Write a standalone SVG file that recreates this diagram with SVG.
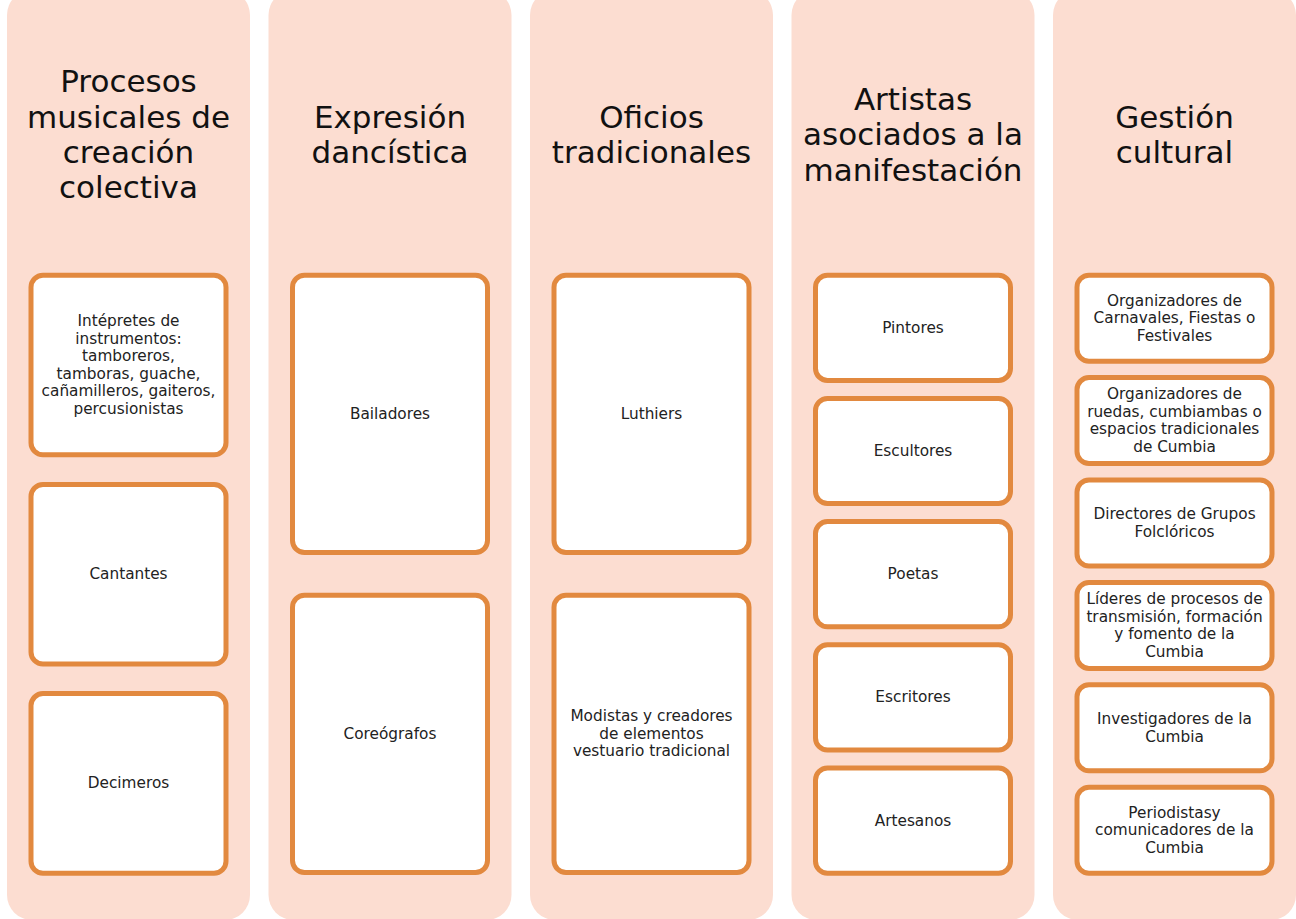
<svg xmlns="http://www.w3.org/2000/svg" width="1296" height="919" viewBox="0 0 1296 919">
<style>
.col{fill:#FCDDD1;}
.box{fill:#FFFFFF;stroke:#E2893F;stroke-width:5;}
.hd{font-family:"DejaVu Sans","Liberation Sans",sans-serif;font-size:31px;fill:#111111;text-anchor:middle;}
.tx{font-family:"DejaVu Sans","Liberation Sans",sans-serif;font-size:15.3px;fill:#222222;text-anchor:middle;}
</style>
<rect width="1296" height="919" fill="#FFFFFF"/>

<g id="col-procesos">
<rect class="col" x="7" y="-10" width="243" height="930" rx="25"/>
<text class="hd"><tspan x="128.5" y="92.4">Procesos</tspan><tspan x="128.5" y="127.7">musicales de</tspan><tspan x="128.5" y="163">creación</tspan><tspan x="128.5" y="198.3">colectiva</tspan></text>
</g>
<g id="node-interpretes">
<rect class="box" x="31" y="275.2" width="195" height="179.6" rx="12"/>
<text class="tx"><tspan x="128.5" y="326.25">Intépretes de</tspan><tspan x="128.5" y="343.75">instrumentos:</tspan><tspan x="128.5" y="361.25">tamboreros,</tspan><tspan x="128.5" y="378.75">tamboras, guache,</tspan><tspan x="128.5" y="396.25">cañamilleros, gaiteros,</tspan><tspan x="128.5" y="413.75">percusionistas</tspan></text>
</g>
<g id="node-cantantes">
<rect class="box" x="31" y="484.4" width="195" height="179.6" rx="12"/>
<text class="tx" x="128.5" y="579.2">Cantantes</text>
</g>
<g id="node-decimeros">
<rect class="box" x="31" y="693.6" width="195" height="179.6" rx="12"/>
<text class="tx" x="128.5" y="788.4">Decimeros</text>
</g>

<g id="col-expresion">
<rect class="col" x="268.5" y="-10" width="243" height="930" rx="25"/>
<text class="hd"><tspan x="390" y="127.7">Expresión</tspan><tspan x="390" y="163">dancística</tspan></text>
</g>
<g id="node-bailadores">
<rect class="box" x="292.5" y="275.2" width="195" height="277.3" rx="12"/>
<text class="tx" x="390" y="418.9">Bailadores</text>
</g>
<g id="node-coreografos">
<rect class="box" x="292.5" y="595.2" width="195" height="277.3" rx="12"/>
<text class="tx" x="390" y="738.9">Coreógrafos</text>
</g>

<g id="col-oficios">
<rect class="col" x="530" y="-10" width="243" height="930" rx="25"/>
<text class="hd"><tspan x="651.5" y="127.7">Oficios</tspan><tspan x="651.5" y="163">tradicionales</tspan></text>
</g>
<g id="node-luthiers">
<rect class="box" x="554" y="275.2" width="195" height="277.3" rx="12"/>
<text class="tx" x="651.5" y="418.9">Luthiers</text>
</g>
<g id="node-modistas">
<rect class="box" x="554" y="595.2" width="195" height="277.3" rx="12"/>
<text class="tx"><tspan x="651.5" y="721.35">Modistas y creadores</tspan><tspan x="651.5" y="738.85">de elementos</tspan><tspan x="651.5" y="756.35">vestuario tradicional</tspan></text>
</g>

<g id="col-artistas">
<rect class="col" x="791.5" y="-10" width="243" height="930" rx="25"/>
<text class="hd"><tspan x="913" y="110">Artistas</tspan><tspan x="913" y="145.3">asociados a la</tspan><tspan x="913" y="180.6">manifestación</tspan></text>
</g>
<g id="node-pintores">
<rect class="box" x="815.5" y="275.2" width="195" height="105.2" rx="12"/>
<text class="tx" x="913" y="332.8">Pintores</text>
</g>
<g id="node-escultores">
<rect class="box" x="815.5" y="398.4" width="195" height="105.2" rx="12"/>
<text class="tx" x="913" y="456">Escultores</text>
</g>
<g id="node-poetas">
<rect class="box" x="815.5" y="521.6" width="195" height="105.2" rx="12"/>
<text class="tx" x="913" y="579.2">Poetas</text>
</g>
<g id="node-escritores">
<rect class="box" x="815.5" y="644.8" width="195" height="105.2" rx="12"/>
<text class="tx" x="913" y="702.4">Escritores</text>
</g>
<g id="node-artesanos">
<rect class="box" x="815.5" y="768" width="195" height="105.2" rx="12"/>
<text class="tx" x="913" y="825.6">Artesanos</text>
</g>

<g id="col-gestion">
<rect class="col" x="1053" y="-10" width="243" height="930" rx="25"/>
<text class="hd"><tspan x="1174.5" y="127.7">Gestión</tspan><tspan x="1174.5" y="163">cultural</tspan></text>
</g>
<g id="node-org-carnavales">
<rect class="box" x="1077" y="275.2" width="195" height="86" rx="12"/>
<text class="tx"><tspan x="1174.5" y="305.7">Organizadores de</tspan><tspan x="1174.5" y="323.2">Carnavales, Fiestas o</tspan><tspan x="1174.5" y="340.7">Festivales</tspan></text>
</g>
<g id="node-org-ruedas">
<rect class="box" x="1077" y="377.6" width="195" height="86" rx="12"/>
<text class="tx"><tspan x="1174.5" y="399.35">Organizadores de</tspan><tspan x="1174.5" y="416.85">ruedas, cumbiambas o</tspan><tspan x="1174.5" y="434.35">espacios tradicionales</tspan><tspan x="1174.5" y="451.85">de Cumbia</tspan></text>
</g>
<g id="node-directores">
<rect class="box" x="1077" y="480" width="195" height="86" rx="12"/>
<text class="tx"><tspan x="1174.5" y="519.25">Directores de Grupos</tspan><tspan x="1174.5" y="536.75">Folclóricos</tspan></text>
</g>
<g id="node-lideres">
<rect class="box" x="1077" y="582.4" width="195" height="86" rx="12"/>
<text class="tx"><tspan x="1174.5" y="604.15">Líderes de procesos de</tspan><tspan x="1174.5" y="621.65">transmisión, formación</tspan><tspan x="1174.5" y="639.15">y fomento de la</tspan><tspan x="1174.5" y="656.65">Cumbia</tspan></text>
</g>
<g id="node-investigadores">
<rect class="box" x="1077" y="684.8" width="195" height="86" rx="12"/>
<text class="tx"><tspan x="1174.5" y="724.05">Investigadores de la</tspan><tspan x="1174.5" y="741.55">Cumbia</tspan></text>
</g>
<g id="node-periodistas">
<rect class="box" x="1077" y="787.2" width="195" height="86" rx="12"/>
<text class="tx"><tspan x="1174.5" y="817.7">Periodistasy</tspan><tspan x="1174.5" y="835.2">comunicadores de la</tspan><tspan x="1174.5" y="852.7">Cumbia</tspan></text>
</g>

<g id="connectors"></g>
</svg>
